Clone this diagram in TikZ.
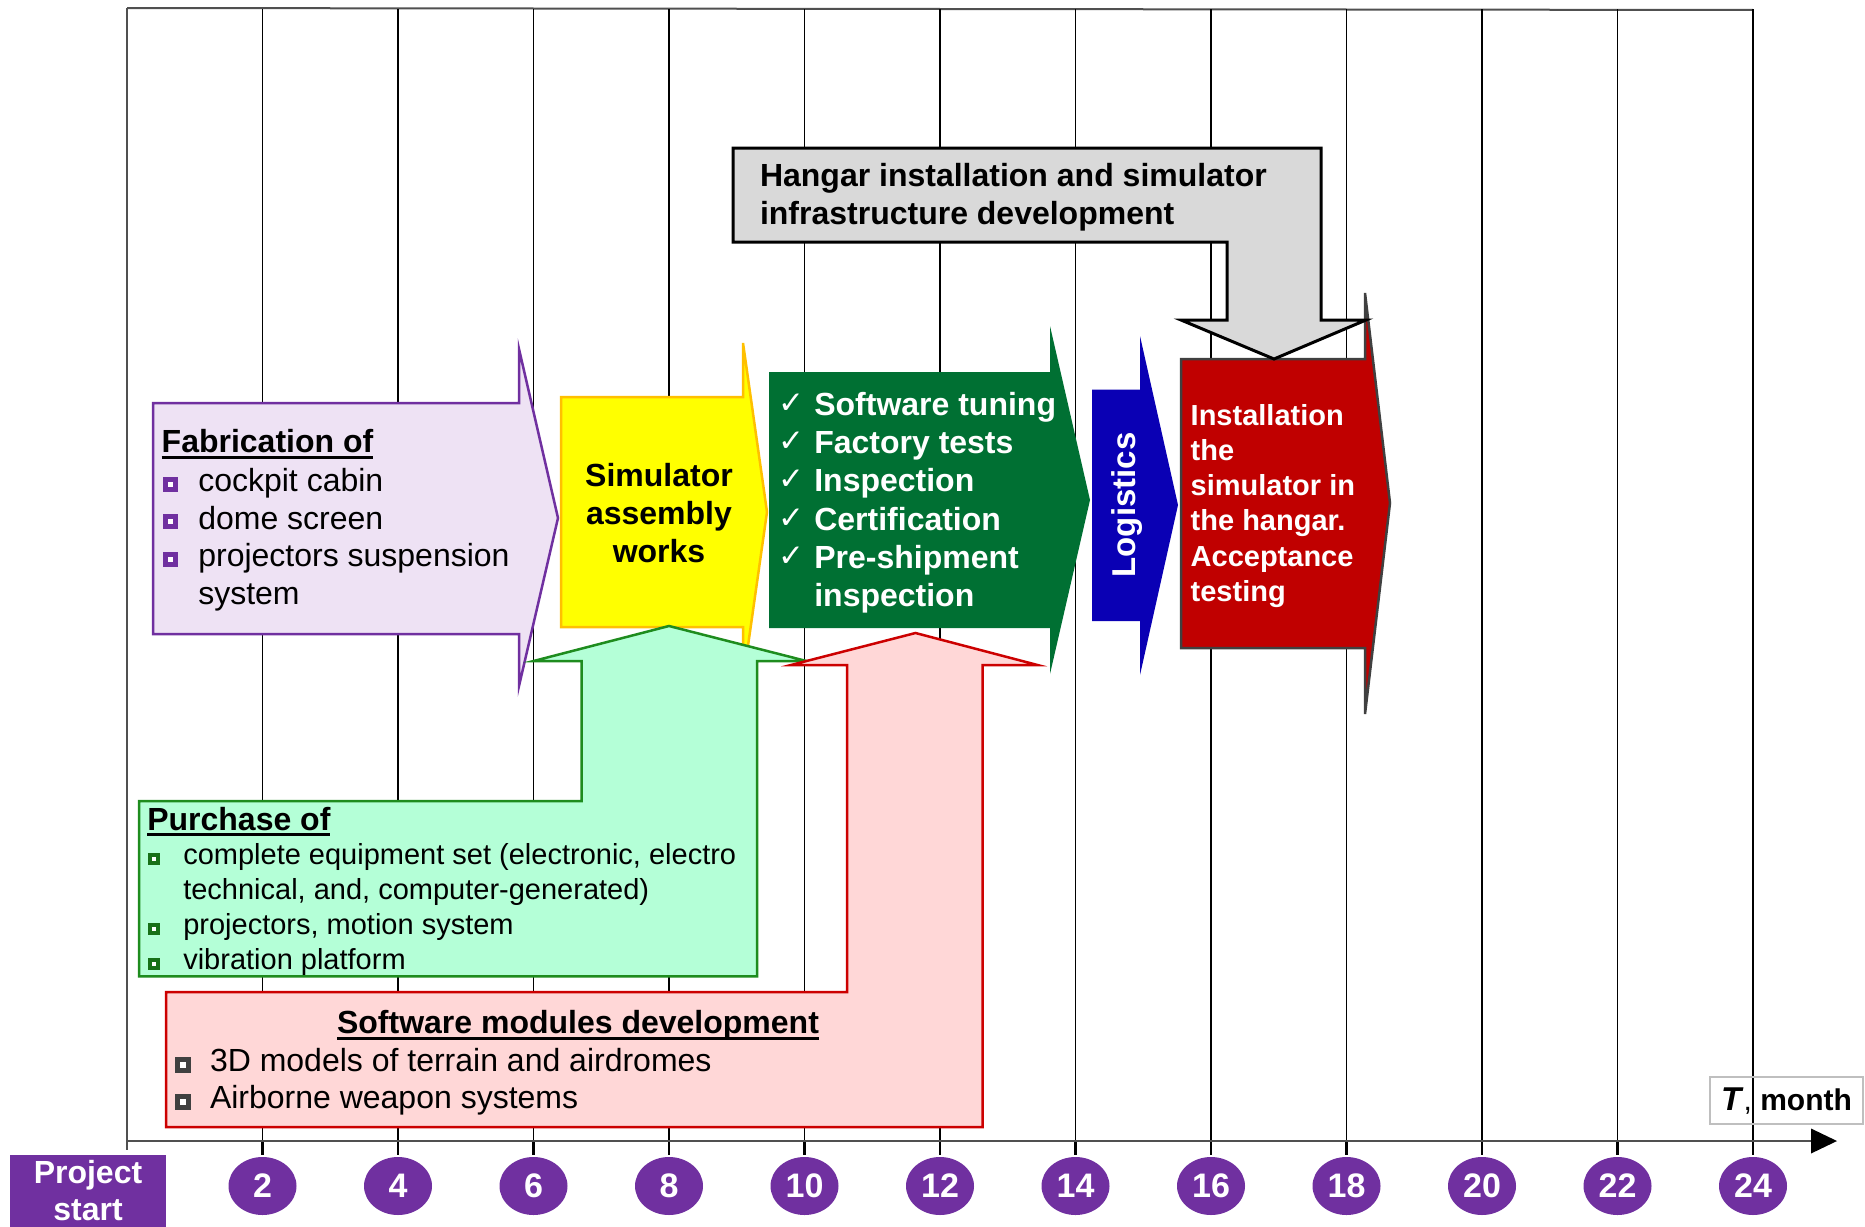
\documentclass[tikz,border=0pt]{standalone}
\usepackage{fontspec}
\setmainfont{Liberation Sans}
\newfontfamily\djvfont{DejaVu Sans}
\usetikzlibrary{shapes.geometric}
\definecolor{cPurp}{HTML}{7030A0}
\definecolor{cLav}{HTML}{EEE2F4}
\definecolor{cYel}{HTML}{FFFF00}
\definecolor{cYelB}{HTML}{FFC000}
\definecolor{cDGreen}{HTML}{007033}
\definecolor{cBlue}{HTML}{0A00B4}
\definecolor{cRed}{HTML}{C00000}
\definecolor{cRedB}{HTML}{404040}
\definecolor{cHGray}{HTML}{D9D9D9}
\definecolor{cMint}{HTML}{B4FFD7}
\definecolor{cMintB}{HTML}{1E8C1E}
\definecolor{cPink}{HTML}{FFD7D7}
\definecolor{cPinkB}{HTML}{CC0000}
\definecolor{cAxis}{HTML}{505050}
\definecolor{cTBox}{HTML}{BFBFBF}
\definecolor{cBulGray}{HTML}{404040}
\newcommand{\setfs}[2]{\fontsize{#1}{#2}\selectfont}
\tikzset{
  gridln/.style={line width=1.3pt, black},
  tickln/.style={line width=2.4pt, black},
  axisln/.style={line width=2.4pt, cAxis},
  numc/.style={ellipse, fill=cPurp, minimum width=68pt, minimum height=58pt, text=white, font=\setfs{34}{36}\bfseries},
  ln/.style={anchor=base west},
  bodyR/.style={ln, font=\setfs{32}{38}},
  bodyS/.style={ln, font=\setfs{29}{35}},
  bodyB/.style={ln, font=\setfs{32}{38}\bfseries},
  whiteB/.style={ln, font=\setfs{32}{38}\bfseries, text=white},
  instB/.style={ln, font=\setfs{29}{35}\bfseries, text=white},
  bulP/.style={rectangle, draw=cPurp, fill=white, line width=5pt, minimum size=10pt},
  bulG/.style={rectangle, draw=cMintB!80!black, fill=white, line width=4pt, minimum size=8pt},
  bulK/.style={rectangle, draw=cBulGray, fill=white, line width=5pt, minimum size=11pt},
  chk/.style={ln, font=\djvfont\setfs{31}{34}, text=white},
  uline/.style={line width=3pt, black},
  arrowshape/.style={line width=2.5pt, line join=miter},
}
\begin{document}
\begin{tikzpicture}[x=1pt,y=-1pt,every node/.style={inner sep=0pt,outer sep=0pt}]
\useasboundingbox (0,0) rectangle (1865,1226);
% ---------- grid and time axis ----------
\draw[line width=2pt, cAxis] (127,8) -- (1753,10);
\draw[line width=2pt, cAxis] (127,8) -- (127,1150);
\foreach \m in {2,4,...,24}{
  \draw[gridln] ({127+67.75*\m},9) -- ({127+67.75*\m},1141);
  \draw[tickln] ({127+67.75*\m},1141) -- ({127+67.75*\m},1155);
}
\draw[axisln] (127,1141) -- (1814,1141);
\fill[black] (1811,1128.5) -- (1837,1141) -- (1811,1153.5) -- cycle;
\foreach \m in {2,4,...,24}{
  \node[numc] (c\m) at ({127+67.75*\m},1186) {\m};
}
\node[fill=cPurp, text=white, font=\setfs{32}{37}\bfseries, minimum width=156pt, minimum height=72pt, align=center, anchor=north west] (pstart) at (10,1155) {Project\\start};
\node[draw=cTBox, line width=2.5pt, minimum width=153pt, minimum height=47pt, anchor=north west] (tbox) at (1710,1077) {};
\node[font=\setfs{30}{34}\bfseries] (tlab) at ([yshift=-1pt]tbox.center) {{\setfs{33}{34}\textit{T}}\textmd{,} month};

% ---------- Fabrication ----------
\draw[arrowshape, draw=cPurp, fill=cLav] (153,403) -- (519,403) -- (519,349) -- (558,518) -- (519,686) -- (519,634) -- (153,634) -- cycle;
\node[bodyB] (fabT) at (161.7,452.7) {Fabrication of};
\draw[uline] ([yshift=-5pt]fabT.base west) -- ([yshift=-5pt]fabT.base east);
\node[bulP] (fb1) at (170,484.2) {};
\node[bulP] (fb2) at (170,521.7) {};
\node[bulP] (fb3) at (170,559.2) {};
\node[bodyR] (fa1) at (198.3,491.7) {cockpit cabin};
\node[bodyR] (fa2) at (198.3,529.2) {dome screen};
\node[bodyR] (fa3) at (198.3,566.7) {projectors suspension};
\node[bodyR] (fa4) at (198.3,604.2) {system};

% ---------- Simulator assembly ----------
\draw[arrowshape, draw=cYelB, fill=cYel] (561,397) -- (743,397) -- (743,343) -- (767,512) -- (743,681) -- (743,627) -- (561,627) -- cycle;
\node[ln, anchor=base, font=\setfs{32}{38}\bfseries] (sa1) at (659,486) {Simulator};
\node[ln, anchor=base, font=\setfs{32}{38}\bfseries] (sa2) at (659,524) {assembly};
\node[ln, anchor=base, font=\setfs{32}{38}\bfseries] (sa3) at (659,562) {works};

% ---------- Tests ----------
\fill[cDGreen] (769,372) -- (1050,372) -- (1050,326) -- (1090,500) -- (1050,674) -- (1050,628) -- (769,628) -- cycle;
\node[chk] (k1) at (778,413) {✓};
\node[chk] (k2) at (778,451) {✓};
\node[chk] (k3) at (778,489.5) {✓};
\node[chk] (k4) at (778,528) {✓};
\node[chk] (k5) at (778,566) {✓};
\node[whiteB] (t1) at (814.3,415) {Software tuning};
\node[whiteB] (t2) at (814.3,453) {Factory tests};
\node[whiteB] (t3) at (814.3,491.5) {Inspection};
\node[whiteB] (t4) at (814.3,530) {Certification};
\node[whiteB] (t5) at (814.3,568) {Pre-shipment};
\node[whiteB] (t6) at (814.3,606.5) {inspection};

% ---------- Purchase ----------
\draw[arrowshape, draw=cMintB, fill=cMint] (139,801) -- (581.5,801) -- (581.5,661) -- (533.6,661) -- (669,626) -- (806.4,661) -- (757.2,661) -- (757.2,976.4) -- (139,976.4) -- cycle;
\node[bodyB] (puT) at (147.3,830) {Purchase of};
\draw[uline] ([yshift=-4.5pt]puT.base west) -- ([yshift=-4.5pt]puT.base east);
\node[bulG] (pb1) at (154,858.5) {};
\node[bulG] (pb2) at (154,928.5) {};
\node[bulG] (pb3) at (154,963.5) {};
\node[bodyS] (pu1) at (183.3,864) {complete equipment set (electronic, electro};
\node[bodyS] (pu2) at (183.3,899) {technical, and, computer-generated)};
\node[bodyS] (pu3) at (183.3,934) {projectors, motion system};
\node[bodyS] (pu4) at (183.3,969) {vibration platform};

% ---------- Software modules ----------
\draw[arrowshape, draw=cPinkB, fill=cPink] (166,992) -- (847,992) -- (847,665) -- (791,665) -- (915.5,633) -- (1037.5,665) -- (982.7,665) -- (982.7,1127) -- (166,1127) -- cycle;
\node[ln, anchor=base, font=\setfs{32}{38}\bfseries] (swT) at (578,1033) {Software modules development};
\draw[uline] ([yshift=-5pt]swT.base west) -- ([yshift=-5pt]swT.base east);
\node[bulK] (sb1) at (183,1065) {};
\node[bulK] (sb2) at (183,1102) {};
\node[bodyR] (sw1) at (210,1071) {3D models of terrain and airdromes};
\node[bodyR] (sw2) at (210,1108.5) {Airborne weapon systems};

% ---------- Logistics ----------
\fill[cBlue] (1092,389.5) -- (1140,389.5) -- (1140,336) -- (1178,505) -- (1140,675) -- (1140,621) -- (1092,621) -- cycle;
\node[rotate=90, anchor=base, font=\setfs{33}{38}\bfseries, text=white] (logi) at (1135,505) {Logistics};

% ---------- Installation ----------
\draw[arrowshape, draw=cRedB, fill=cRed] (1181,359) -- (1365,359) -- (1365,293) -- (1390,503) -- (1365,714) -- (1365,648) -- (1181,648) -- cycle;
\node[instB] (in1) at (1190.7,425) {Installation};
\node[instB] (in2) at (1190.7,460.3) {the};
\node[instB] (in3) at (1190.7,495.6) {simulator in};
\node[instB] (in4) at (1190.7,530.9) {the hangar.};
\node[instB] (in5) at (1190.7,566.2) {Acceptance};
\node[instB] (in6) at (1190.7,601.5) {testing};

% ---------- Hangar ----------
\draw[line width=3pt, line join=miter, draw=black, fill=cHGray] (733,148) -- (1321,148) -- (1321,320) -- (1366,320) -- (1274,359) -- (1181,320) -- (1227,320) -- (1227,242) -- (733,242) -- cycle;
\node[bodyB] (hg1) at (760,186) {Hangar installation and simulator};
\node[bodyB] (hg2) at (760,224) {infrastructure development};
\end{tikzpicture}
\end{document}
